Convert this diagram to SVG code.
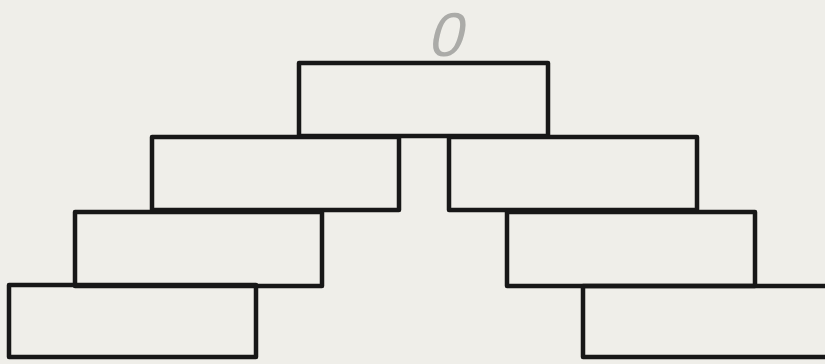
<svg xmlns="http://www.w3.org/2000/svg" width="825" height="364" viewBox="0 0 825 364">
  <style>
    .box { fill: none; stroke: #171717; stroke-width: 4.5; stroke-linejoin: round; }
    .mark { font-family: "Liberation Sans", Arial, sans-serif; font-size: 62px; fill: #ababa8; }
  </style>
  <rect x="0" y="0" width="825" height="364" fill="#efeee9"/>
  <text class="mark" x="444" y="56" text-anchor="middle" transform="translate(444 56) skewX(-14) translate(-444 -56)">0</text>
  <g id="top-box"><rect class="box" x="299" y="63" width="249" height="73"/></g>
  <g id="row2-left"><rect class="box" x="152" y="137" width="247" height="73"/></g>
  <g id="row2-right"><rect class="box" x="449" y="137" width="248" height="73"/></g>
  <g id="row3-left"><rect class="box" x="75" y="212" width="247" height="74"/></g>
  <g id="row3-right"><rect class="box" x="507" y="212" width="248" height="74"/></g>
  <g id="row4-left"><rect class="box" x="9" y="285" width="247" height="72"/></g>
  <g id="row4-right"><rect class="box" x="583" y="286" width="262" height="71"/></g>
  <g id="connectors"></g>
</svg>
